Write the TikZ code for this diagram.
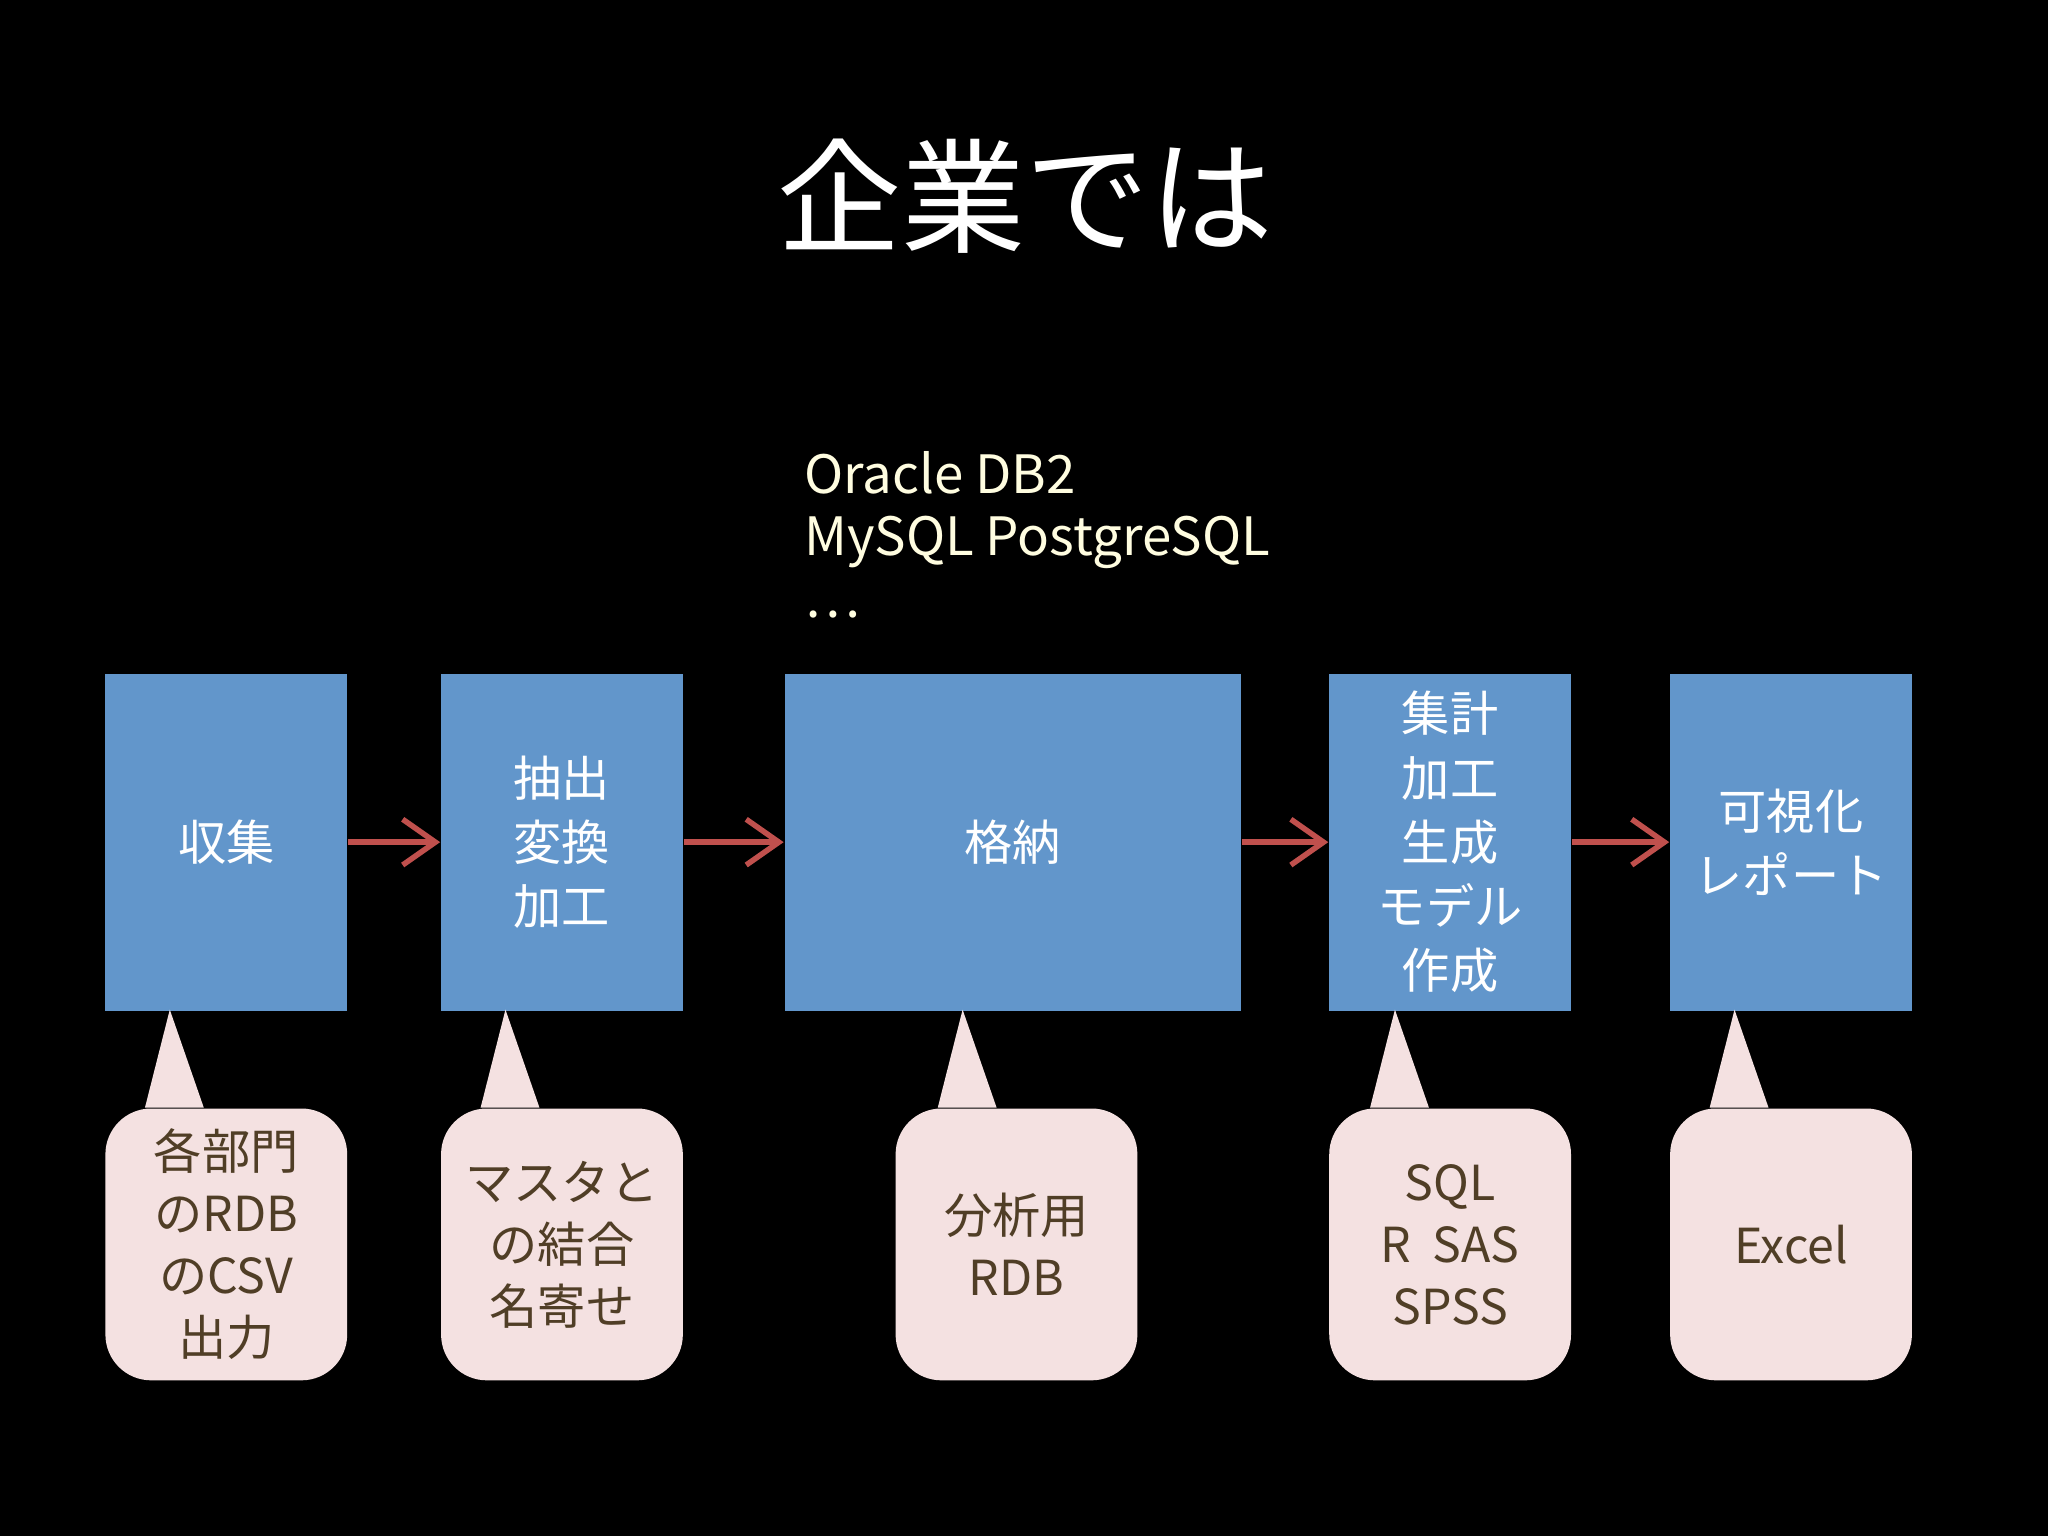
\documentclass[tikz,border=0pt]{standalone}
\usepackage{fontspec}
\setmainfont{Noto Sans CJK JP}
\usetikzlibrary{arrows.meta}
\definecolor{boxblue}{RGB}{98,150,203}
\definecolor{notepink}{RGB}{244,225,225}
\definecolor{notetext}{RGB}{80,62,38}
\definecolor{arrowred}{RGB}{192,80,77}
\tikzstyle{stage} = [fill=boxblue, text=white, minimum width=1.85cm, minimum height=2.58cm, align=center, font=\fontsize{10.5}{14}\selectfont, inner sep=0pt]
\tikzstyle{note} = [fill=notepink, text=notetext, rounded corners=0.35cm, minimum width=1.85cm, minimum height=2.08cm, align=center, font=\fontsize{10.5}{13.5}\selectfont, inner sep=0pt]
\tikzstyle{arrow} = [arrowred, line width=1.2pt, -{Straight Barb[length=2.5mm,width=3.5mm]}]

\begin{document}
\begin{tikzpicture}[x=0.01cm, y=-0.01cm]
			\fill[black] (0,0) rectangle (1568,1176);
			\node[white, font=\fontsize{27}{30}\selectfont] (title) at (785,150){企業では};
			\node[text=white!88!yellow, anchor=north west, align=left, font=\fontsize{11.5}{13.5}\selectfont, inner sep=0pt] (dbs) at (615,345){Oracle DB2\\MySQL PostgreSQL\\…};
			
			\node[stage, anchor=north west] (s1) at (80,515){収集};
			\node[stage, anchor=north west] (s2) at (337,515){抽出\\変換\\加工};
			\node[stage, anchor=north west, minimum width=3.49cm] (s3) at (600,515){格納};
			\node[stage, anchor=north west] (s4) at (1017,515){集計\\加工\\生成\\モデル\\作成};
			\node[stage, anchor=north west] (s5) at (1278,515){可視化\\レポート};
			
			\draw[arrow](s1) -- (s2);
			\draw[arrow](s2) -- (s3);
			\draw[arrow](s3) -- (s4);
			\draw[arrow](s4) -- (s5);
			
			\node[note, anchor=north west] (n1) at (80,848){各部門\\のRDB\\のCSV\\出力};
			\node[note, anchor=north west] (n2) at (337,848){マスタと\\の結合\\名寄せ};
			\node[note, anchor=north west] (n3) at (685,848){分析用\\RDB};
			\node[note, anchor=north west] (n4) at (1017,848){SQL\\R\ \ SAS\\SPSS};
			\node[note, anchor=north west] (n5) at (1278,848){Excel};
			
			% callout pointers
			\foreach \n/\t in {1/130, 2/387, 3/737, 4/1068, 5/1328}{
				\coordinate (p\n) at (\t,773);
				\fill[notepink] (p\n) -- ([xshift=-0.19cm]p\n|-n\n.north) -- ([xshift=0.26cm]p\n|-n\n.north) -- cycle;
			}
		\end{tikzpicture}
\end{document}
